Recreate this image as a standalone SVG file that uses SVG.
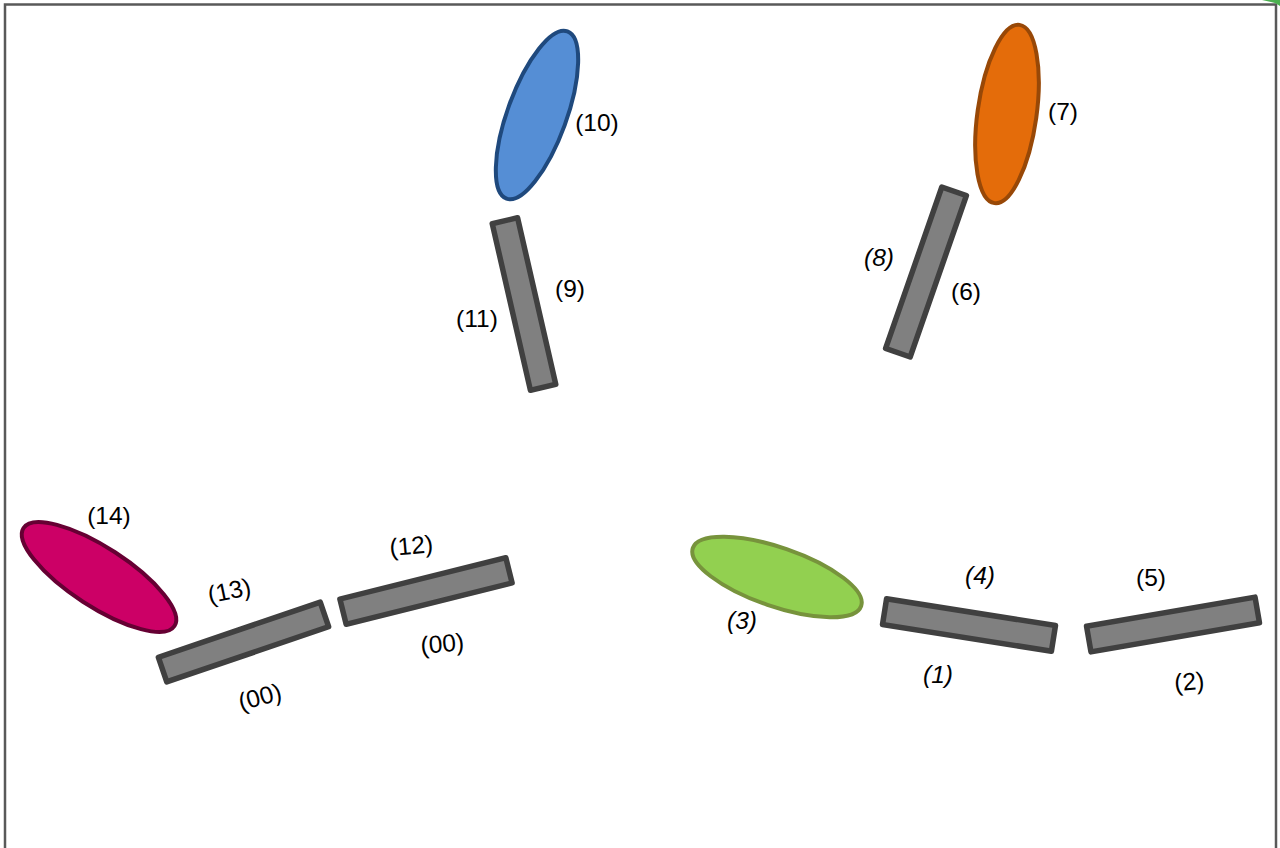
<svg xmlns="http://www.w3.org/2000/svg" width="1280" height="848" viewBox="0 0 1280 848">
<style>
.bar{fill:#808080;stroke:#404040;stroke-width:5.5;stroke-linejoin:round}
.lbl{font-family:"Liberation Sans",Arial,sans-serif;font-size:24.5px;fill:#000;text-anchor:middle}
.it{font-style:italic}
.el{stroke-width:4}
</style>
<rect x="5" y="4.5" width="1271" height="860" fill="#fff" stroke="#595959" stroke-width="2.5"/>
<path d="M1262,0 L1280,0 L1280,6 L1275,3 Z" fill="#4cb050"/>
<g id="connectors"></g>
<g id="node-blue">
  <ellipse class="el" cx="537" cy="115" rx="29.5" ry="89" transform="rotate(20 537 115)" fill="#558ed5" stroke="#1f497d"/>
  <text class="lbl" x="597" y="131">(10)</text>
</g>
<g id="node-orange">
  <ellipse class="el" cx="1007" cy="114" rx="29.5" ry="90" transform="rotate(8 1007 114)" fill="#e46c0a" stroke="#984807"/>
  <text class="lbl" x="1063" y="120">(7)</text>
</g>
<g id="bar-9-11">
  <rect class="bar" x="-13" y="-85.5" width="26" height="171" transform="translate(524 304) rotate(-12.9)"/>
  <text class="lbl" x="570" y="297">(9)</text>
  <text class="lbl" x="477" y="327">(11)</text>
</g>
<g id="bar-6-8">
  <rect class="bar" x="-13" y="-85.5" width="26" height="171" transform="translate(926 272) rotate(19.2)"/>
  <text class="lbl it" x="879" y="266">(8)</text>
  <text class="lbl" x="966" y="300">(6)</text>
</g>
<g id="node-magenta">
  <ellipse class="el" cx="99" cy="577" rx="90" ry="29.5" transform="rotate(33 99 577)" fill="#cc0066" stroke="#660033"/>
  <text class="lbl" x="109" y="524">(14)</text>
</g>
<g id="bar-13">
  <rect class="bar" x="-85.5" y="-13" width="171" height="26" transform="translate(243.5 642) rotate(-18.8)"/>
  <text class="lbl" transform="translate(231 599) rotate(-12)">(13)</text>
  <text class="lbl" transform="translate(262 705) rotate(-15)">(00)</text>
</g>
<g id="bar-12">
  <rect class="bar" x="-85.5" y="-13" width="171" height="26" transform="translate(426 591) rotate(-14)"/>
  <text class="lbl" transform="translate(412 554) rotate(-5)">(12)</text>
  <text class="lbl" transform="translate(443 652) rotate(-5)">(00)</text>
</g>
<g id="node-green">
  <ellipse class="el" cx="777" cy="577" rx="89" ry="29.5" transform="rotate(19 777 577)" fill="#92d050" stroke="#77933c"/>
  <text class="lbl it" x="742" y="629">(3)</text>
</g>
<g id="bar-4-1">
  <rect class="bar" x="-85.5" y="-13" width="171" height="26" transform="translate(969 625) rotate(9)"/>
  <text class="lbl it" x="980" y="584">(4)</text>
  <text class="lbl it" x="938" y="683">(1)</text>
</g>
<g id="bar-5-2">
  <rect class="bar" x="-85.5" y="-13" width="171" height="26" transform="translate(1173 624.5) rotate(-9.8)"/>
  <text class="lbl" x="1151" y="586">(5)</text>
  <text class="lbl" transform="translate(1190 690) rotate(-5)">(2)</text>
</g>
</svg>
